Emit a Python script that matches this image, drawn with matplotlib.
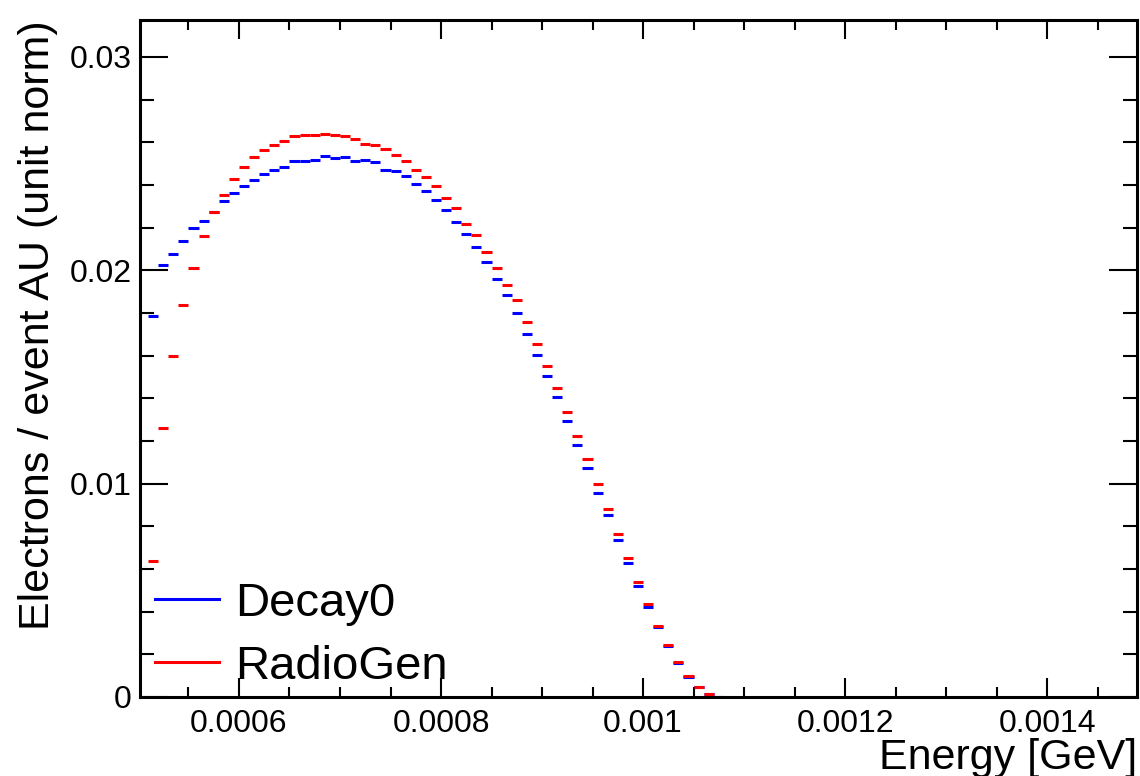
import numpy as np
import matplotlib
matplotlib.use("Agg")
import matplotlib.pyplot as plt
from matplotlib.ticker import MultipleLocator, FuncFormatter
from matplotlib.lines import Line2D

plt.rcParams['font.family'] = ['Liberation Sans', 'DejaVu Sans']

# binning: 10 keV bins, first filled bin starts at 0.51 MeV
bin_width = 0.00001
bin_lo = 0.00051

# electrons per event, unit normalised
decay0 = [0.01785, 0.02025, 0.02077, 0.02138, 0.02196, 0.02231, 0.02275, 0.02325,
          0.02360, 0.02394, 0.02421, 0.02450, 0.02472, 0.02482, 0.02510, 0.02514,
          0.02517, 0.02535, 0.02526, 0.02531, 0.02513, 0.02517, 0.02506, 0.02470,
          0.02466, 0.02441, 0.02405, 0.02371, 0.02330, 0.02283, 0.02224, 0.02168,
          0.02107, 0.02038, 0.01958, 0.01882, 0.01800, 0.01699, 0.01603, 0.01505,
          0.01405, 0.01294, 0.01183, 0.01075, 0.00958, 0.00852, 0.00736, 0.00627,
          0.00520, 0.00421, 0.00328, 0.00238, 0.00161, 0.00095, 0.00046, 0.00014,
          0.00001]
radiogen = [0.00636, 0.01263, 0.01599, 0.01836, 0.02011, 0.02161, 0.02275, 0.02352,
            0.02428, 0.02484, 0.02531, 0.02563, 0.02585, 0.02608, 0.02627, 0.02633,
            0.02636, 0.02641, 0.02633, 0.02628, 0.02617, 0.02592, 0.02589, 0.02567,
            0.02539, 0.02510, 0.02470, 0.02435, 0.02393, 0.02338, 0.02292, 0.02216,
            0.02164, 0.02086, 0.02013, 0.01931, 0.01861, 0.01756, 0.01653, 0.01552,
            0.01449, 0.01338, 0.01225, 0.01114, 0.00996, 0.00881, 0.00766, 0.00653,
            0.00539, 0.00435, 0.00333, 0.00246, 0.00164, 0.00098, 0.00049, 0.00016,
            0.00002]

xticks = [0.0006, 0.0008, 0.001, 0.0012, 0.0014]

edges = bin_lo + bin_width * np.arange(len(decay0) + 1)

fig = plt.figure(figsize=(11.4, 7.76), dpi=100)
ax = fig.add_axes([140/1140, 1 - 697/776, 997/1140, 677/776])

# bin contents as flat bars across each bin
ax.hlines(decay0, edges[:-1], edges[1:], colors='#0000ff', linewidth=2.2, capstyle='butt')
ax.hlines(radiogen, edges[:-1], edges[1:], colors='#ff0000', linewidth=2.2, capstyle='butt')

ax.set_xlim(0.000502, 0.001489)
ax.set_ylim(0, 0.03173)

ax.set_xticks(xticks)
ax.xaxis.set_minor_locator(MultipleLocator(0.00005))
ax.yaxis.set_major_locator(MultipleLocator(0.01))
ax.yaxis.set_minor_locator(MultipleLocator(0.002))
fmt = FuncFormatter(lambda v, p: f"{v:g}")
ax.xaxis.set_major_formatter(fmt)
ax.yaxis.set_major_formatter(fmt)

ax.tick_params(axis='both', which='both', direction='in', top=True, right=True,
               width=1.5, labelsize=23, colors='black')
ax.tick_params(axis='x', which='major', length=14, pad=9)
ax.tick_params(axis='x', which='minor', length=7)
ax.tick_params(axis='y', which='major', length=20, pad=6)
ax.tick_params(axis='y', which='minor', length=10)
for s in ax.spines.values():
    s.set_linewidth(2.2)

ax.set_xlabel("Energy [GeV]", fontsize=31, loc='right', labelpad=-1)
ax.set_ylabel("Electrons / event AU (unit norm)", fontsize=31, loc='top', labelpad=8)

handles = [Line2D([], [], color='#0000ff', lw=2.2),
           Line2D([], [], color='#ff0000', lw=2.2)]
ax.legend(handles, ["Decay0", "RadioGen"], loc='lower left',
          bbox_to_anchor=(0.015, 0.012), frameon=False, fontsize=34,
          handlelength=1.35, handletextpad=0.35, labelspacing=0.41,
          borderpad=0, borderaxespad=0)

fig.savefig("out.png", dpi=100)
